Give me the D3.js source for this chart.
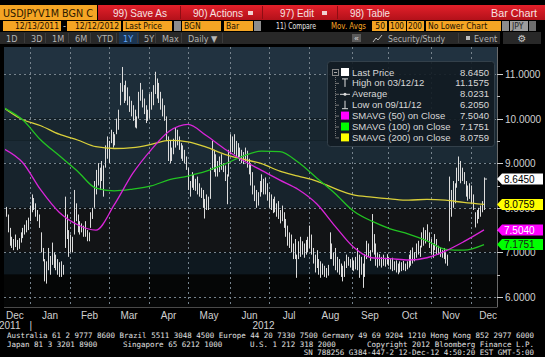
<!DOCTYPE html>
<html><head><meta charset="utf-8">
<script src="https://d3js.org/d3.v7.min.js"></script>
<style>
html,body{margin:0;padding:0;background:#000;overflow:hidden}
svg{display:block}
</style></head>
<body>
<svg id="chart" width="545" height="357"></svg>
<script>
// ================= DATA =================
const ticker = "USDJPYV1M BGN C";
const startDate = "2011-12-13";
const endDate = "2012-12-12";

// daily highs / lows (one entry per trading day)
const highs = [
 8.08,8.02,7.85,7.55,7.35,7.30,7.40,7.28,7.32,7.45,7.55,7.62,7.72,7.78,
 8.05,8.30,8.22,8.10,7.95,7.85,7.45,7.10,6.85,6.80,7.10,6.92,7.22,7.00,6.95,6.85,6.78,6.80,6.72,8.25,7.85,7.50,
 7.40,7.35,8.40,8.10,7.85,7.70,7.65,7.60,7.70,7.50,7.45,7.90,8.00,8.60,8.85,9.00,8.90,9.05,8.95,9.40,9.60,
 9.50,9.75,9.70,9.65,10.00,10.20,10.80,11.1575,10.75,10.85,10.70,10.50,10.40,10.30,10.20,10.05,10.60,10.80,10.65,10.45,10.30,10.20,
 10.55,10.60,10.75,11.05,10.90,10.80,10.60,10.45,10.30,10.05,9.60,9.50,9.35,9.55,9.80,9.75,9.60,9.45,9.40,9.30,9.15,
 8.90,8.60,8.80,8.75,8.65,8.70,8.55,8.45,8.40,8.20,8.30,8.25,8.90,9.50,9.30,9.20,9.05,9.15,9.20,9.00,8.95,8.75,9.30,
 9.65,9.60,9.65,9.50,9.45,9.35,9.30,9.25,9.35,9.28,9.10,9.00,8.80,8.50,8.40,8.35,8.60,8.75,8.65,8.68,8.55,
 8.35,8.30,8.20,8.25,8.10,8.15,7.95,8.05,7.90,7.75,7.60,7.45,7.40,7.20,7.30,6.95,7.25,7.35,7.25,7.20,7.28,7.35,
 7.60,7.40,7.10,6.95,7.05,6.85,6.80,6.75,6.70,6.65,6.72,7.45,7.20,7.00,7.10,6.90,6.85,6.75,6.70,6.80,6.95,6.90,6.85,
 6.88,6.82,6.90,7.10,6.95,6.90,6.75,6.96,7.26,7.20,7.05,7.86,7.41,7.20,7.00,6.96,6.90,6.95,6.88,6.96,
 6.90,6.85,6.88,6.80,6.82,6.75,6.80,6.78,6.81,6.75,6.80,6.95,7.05,7.11,7.00,7.20,7.26,7.15,7.45,7.56,7.50,7.63,7.45,
 7.30,7.20,7.41,7.30,7.15,7.11,7.05,7.10,7.00,6.95,8.70,8.40,8.60,8.55,8.90,9.15,9.05,8.90,8.80,8.60,8.50,8.55,
 8.50,8.30,7.90,7.95,8.00,8.05,8.15,8.68
];
const lows = [
 7.85,7.80,7.45,7.15,7.10,7.05,7.12,7.05,7.08,7.22,7.32,7.40,7.45,7.50,
 7.70,7.90,7.95,7.80,7.70,7.55,7.00,6.80,6.35,6.30,6.60,6.50,6.72,6.65,6.60,6.50,6.45,6.45,6.50,7.10,7.30,6.90,
 7.00,7.00,7.40,7.70,7.45,7.40,7.45,7.35,7.35,7.25,7.25,7.55,7.75,8.00,8.30,8.50,8.40,8.60,8.25,8.90,9.10,
 9.00,9.45,9.35,9.40,9.65,9.75,10.30,10.60,10.35,10.40,10.30,10.15,10.05,9.95,9.80,9.78,10.00,10.40,10.25,10.10,9.90,9.95,
 10.00,10.20,10.30,10.55,10.45,10.35,10.20,10.05,9.95,9.50,9.05,9.00,9.05,9.20,9.35,9.40,9.30,9.10,9.05,9.00,8.85,
 8.40,8.25,8.45,8.40,8.38,8.30,8.25,8.22,8.00,7.76,7.95,7.95,8.20,8.85,8.80,8.70,8.70,8.80,8.85,8.80,8.60,8.08,8.70,
 9.20,9.25,9.20,9.15,9.13,9.05,9.00,8.98,9.05,8.90,8.75,8.50,8.30,8.15,8.00,8.05,8.25,8.35,8.30,8.30,8.16,
 8.00,7.95,7.88,7.90,7.80,7.75,7.65,7.70,7.55,7.35,7.15,7.10,7.00,6.85,6.85,6.43,6.85,6.90,6.95,6.88,6.95,7.00,
 7.10,6.95,6.75,6.55,6.65,6.50,6.43,6.50,6.45,6.43,6.48,6.85,6.85,6.70,6.60,6.55,6.50,6.45,6.35,6.45,6.65,6.70,6.66,
 6.60,6.58,6.62,6.60,6.43,6.50,6.205,6.45,6.85,6.90,6.81,7.00,6.95,6.70,6.66,6.70,6.66,6.70,6.68,6.73,
 6.70,6.62,6.58,6.60,6.55,6.51,6.55,6.58,6.60,6.58,6.62,6.66,6.70,6.75,6.80,6.88,6.95,6.90,7.11,7.15,7.20,7.26,7.10,
 6.95,6.88,7.05,6.96,6.95,6.90,6.88,6.85,6.75,6.70,7.25,7.80,8.00,8.10,8.45,8.60,8.55,8.60,8.53,8.25,8.16,8.20,
 8.08,7.95,7.56,7.65,7.75,7.80,7.90,7.95
];
const lastPrice = 8.6450;

// moving averages, read every 10 trading days
const smaDays = [0,10,20,30,40,50,60,70,80,90,100,110,120,130,140,150,160,170,180,190,200,210,220,230,240,250,261];
const sma50  = [9.32,9.02,8.40,7.90,7.62,7.50,8.07,8.77,9.30,9.72,9.87,9.62,9.32,9.06,8.84,8.62,8.41,8.09,7.59,7.12,6.88,6.86,6.83,6.88,7.03,7.24,7.504];
const sma100 = [10.24,9.98,9.52,9.17,8.82,8.44,8.38,8.42,8.49,8.63,8.71,8.82,8.98,9.16,9.27,9.26,9.02,8.67,8.32,7.93,7.70,7.53,7.41,7.26,7.07,7.05,7.1751];
const sma200 = [10.24,9.98,9.84,9.65,9.52,9.37,9.33,9.35,9.42,9.51,9.48,9.36,9.20,9.09,8.99,8.82,8.71,8.60,8.43,8.29,8.24,8.20,8.17,8.19,8.17,8.12,8.0759];

const yTicks = [6,7,8,9,10,11];
const yMinorTicks = [6.5,7.5,8.5,9.5,10.5];
const monthLabels = ["Dec","Jan","Feb","Mar","Apr","May","Jun","Jul","Aug","Sep","Oct","Nov","Dec"];

const legendLabels = ["Last Price","High on 03/12/12","Average","Low on 09/11/12","SMAVG (50) on Close","SMAVG (100) on Close","SMAVG (200) on Close"];
const legendValues = ["8.6450","11.1575","8.0231","6.2050","7.5040","7.1751","8.0759"];
const tagValues = [8.6450, 8.0759, 7.5040, 7.1751];

const menuItems = ["99) Save As","90) Actions","97) Edit","98) Table"];
const rangeButtons = ["1D","3D","1M","6M","YTD","1Y","5Y","Max","Daily \u25BC"];
const footerLine1 = "Australia 61 2 9777 8600 Brazil 5511 3048 4500 Europe 44 20 7330 7500 Germany 49 69 9204 1210 Hong Kong 852 2977 6000";
const footerLine2 = ["Japan 81 3 3201 8900","Singapore 65 6212 1000","U.S. 1 212 318 2000","Copyright 2012 Bloomberg Finance L.P."];
const footerLine3 = "SN 788256 G384-447-2 12-Dec-12  4:50:20 EST  GMT-5:00";

// ================= DRAW =================
const svg = d3.select("#chart");
const SANS = "'Liberation Sans', Arial, sans-serif";
const NARROW = "'Liberation Sans Narrow', 'DejaVu Sans Condensed', 'Liberation Sans', sans-serif";
const MONO = "'DejaVu Sans Mono', 'Liberation Mono', monospace";
const defs = svg.append("defs");

svg.append("rect").attr("width",545).attr("height",357).attr("fill","#000");

function txt(g, x, y, s, size, fill, anchor, font){
  return g.append("text").attr("x",x).attr("y",y).text(s)
    .attr("font-family",font||SANS).attr("font-size",size).attr("fill",fill)
    .attr("text-anchor",anchor||"start");
}
function fit(t, w){ return t.attr("textLength",w).attr("lengthAdjust","spacingAndGlyphs"); }

// ---------- header ----------
const hdr = svg.append("g");
const rg = defs.append("linearGradient").attr("id","redg").attr("x1",0).attr("y1",0).attr("x2",0).attr("y2",1);
rg.append("stop").attr("offset","0%").attr("stop-color","#e3202a");
rg.append("stop").attr("offset","100%").attr("stop-color","#b3111a");
hdr.append("rect").attr("x",0).attr("y",5).attr("width",97).attr("height",15).attr("fill","#f5a524");
fit(txt(hdr,3,16.5,ticker,11,"#2b1800","start",NARROW),90);
hdr.append("rect").attr("x",98).attr("y",5).attr("width",447).attr("height",15).attr("fill","url(#redg)");
const menuX = [113,193,280,350];
const menuW = [54,50,34,40];
menuItems.forEach((m,i)=>fit(txt(hdr,menuX[i],16.5,m,10.5,"#f6e2e2"),menuW[i]));
[180,262,337].forEach(x=>hdr.append("line").attr("x1",x+0.5).attr("x2",x+0.5).attr("y1",6).attr("y2",19).attr("stroke","#8e0d13"));
[248,322].forEach(x=>{hdr.append("rect").attr("x",x).attr("y",11).attr("width",5).attr("height",4).attr("fill","#f0d0d0");});
fit(txt(hdr,537,16.5,"Bar Chart",10.5,"#f6e2e2","end"),46);

// row 2
const r2y = 21, r2h = 10;
function obox(x,w,label,anchor,fill,tcol){
  hdr.append("rect").attr("x",x).attr("y",r2y).attr("width",w).attr("height",r2h).attr("fill",fill||"#f5a524");
  if(label){
    const tx = anchor==="end"? x+w-2 : anchor==="middle"? x+w/2 : x+2;
    const t = txt(hdr,tx,r2y+8.3,label,8.5,tcol||"#1a1000",anchor||"start",NARROW);
    const tw = t.node().getComputedTextLength();
    if(tw > w-3) fit(t, w-3);
  }
}
obox(3,58,"12/13/2011","end");
txt(hdr,63,r2y+8,"-",9,"#ddd");
obox(67,54,"12/12/2012","end");
obox(123,49,"Last Price");
obox(174,7,"","start","#8d8d8d");
obox(182,39,"BGN");
obox(224,29,"Bar");
obox(254,7,"","start","#8d8d8d");
fit(txt(hdr,276,r2y+8.3,"11) Compare",8.5,"#e6e6e6","start",NARROW),40);
fit(txt(hdr,331,r2y+8.3,"Mov. Avgs",8.5,"#f5a524","start",NARROW),35);
obox(372,15,"50","end");
obox(389,17,"100","end");
obox(407,17,"200","end");
obox(426,75,"No Lower Chart");
obox(502,7,"","start","#8d8d8d");
obox(510,18,"JPY","start","#9d9d9d","#222");
obox(529,7,"","start","#6d6d6d");

// row 3
hdr.append("rect").attr("x",0).attr("y",32).attr("width",500).attr("height",12).attr("fill","#282828");
hdr.append("rect").attr("x",503).attr("y",32).attr("width",38).attr("height",12).attr("fill","#282828");
const rbX = [6,31,52,75,97,123,144,162,188];
rangeButtons.forEach((b,i)=>{
  if(b==="1Y") hdr.append("rect").attr("x",rbX[i]-4).attr("y",32).attr("width",20).attr("height",12).attr("fill","#1b3552");
  txt(hdr,rbX[i],41.5,b,9,b==="1Y"?"#5fa6ff":"#b4b4b4","start",NARROW);
  if(i<rangeButtons.length-1) hdr.append("line").attr("x1",rbX[i+1]-6.5).attr("x2",rbX[i+1]-6.5).attr("y1",33).attr("y2",43).attr("stroke","#3c3c3c");
});
hdr.append("line").attr("x1",222.5).attr("x2",222.5).attr("y1",33).attr("y2",43).attr("stroke","#3c3c3c");
hdr.append("rect").attr("x",352).attr("y",34).attr("width",9).attr("height",8).attr("fill","#5a5a5a");
txt(hdr,356.5,41,"\u00AB",8,"#ddd","middle");
hdr.append("path").attr("d","M373,42 L376,38 L378,40 L382,35").attr("stroke","#bbb").attr("fill","none");
fit(txt(hdr,388,41.5,"Security/Study",9,"#b4b4b4","start",NARROW),57);
hdr.append("line").attr("x1",458.5).attr("x2",458.5).attr("y1",33).attr("y2",43).attr("stroke","#3c3c3c");
hdr.append("rect").attr("x",466).attr("y",36).attr("width",4).attr("height",4).attr("fill","#bbb");
txt(hdr,474,41.5,"Event",9,"#b4b4b4","start",NARROW);
txt(hdr,522,42,"\u2699",10,"#c8c8c8","middle","'DejaVu Sans'");

// ---------- plot ----------
const PL = 4, PR = 497, PT = 47, PB = 307;
const parse = d3.timeParse("%Y-%m-%d");
const days = d3.timeDays(parse(startDate), d3.timeDay.offset(parse(endDate),1))
  .filter(d=>d.getDay()!==0 && d.getDay()!==6);
const x = d3.scaleLinear().domain([0, days.length-1]).range([4, 484]);
const y = d3.scaleLinear().domain([6, 11]).range([297, 74]);

defs.append("clipPath").attr("id","plotclip").append("rect")
  .attr("x",PL+1).attr("y",PT).attr("width",PR-PL-1).attr("height",PB-PT);

// background bands
const bandEdges = [y.invert(PT), 11, 10, 9.5, 9, 8, 7, 6.5, y.invert(PB)];
const bandColors = ["#213240","#1d2d39","#18262f","#1b2a35","#17232c","#121416","#0e181f","#050606"];
const bg = svg.append("g");
bandColors.forEach((c,i)=>{
  bg.append("rect").attr("x",PL).attr("width",PR-PL)
    .attr("y",y(bandEdges[i])).attr("height",y(bandEdges[i+1])-y(bandEdges[i])).attr("fill",c);
});

// grid
const monthIdx = [];
days.forEach((d,i)=>{ if(i===0 || d.getMonth()!==days[i-1].getMonth()) monthIdx.push(i); });
const grid = svg.append("g").attr("stroke","#76838d").attr("stroke-dasharray","2,3").attr("stroke-width",1);
monthIdx.slice(1).forEach(i=>{
  const gx = Math.round(x(i))+0.5;
  grid.append("line").attr("x1",gx).attr("x2",gx).attr("y1",PT).attr("y2",PB);
});
yTicks.forEach(v=>{
  const gy = Math.round(y(v))+0.5;
  grid.append("line").attr("x1",PL).attr("x2",PR).attr("y1",gy).attr("y2",gy);
});

// bars
const plot = svg.append("g").attr("clip-path","url(#plotclip)");
plot.append("g").selectAll("line").data(highs).join("line")
  .attr("x1",(d,i)=>Math.round(x(i))+0.5).attr("x2",(d,i)=>Math.round(x(i))+0.5)
  .attr("y1",d=>y(d)).attr("y2",(d,i)=>y(lows[i]))
  .attr("stroke","#dcdcdc").attr("stroke-width",1);
plot.append("line").attr("x1",Math.round(x(days.length-1))+0.5).attr("x2",Math.round(x(days.length-1))+3)
  .attr("y1",y(lastPrice)).attr("y2",y(lastPrice)).attr("stroke","#dcdcdc");

// moving averages
const line = d3.line().x((d,i)=>x(smaDays[i])).y(d=>y(d)).curve(d3.curveMonotoneX);
[[sma200,"#d9cf3a"],[sma100,"#22c322"],[sma50,"#d925d9"]].forEach(([s,c])=>{
  plot.append("path").attr("d",line(s)).attr("fill","none").attr("stroke",c).attr("stroke-width",1.3);
});

// right axis
const ax = svg.append("g");
ax.append("line").attr("x1",PR+0.5).attr("x2",PR+0.5).attr("y1",PT).attr("y2",PB).attr("stroke","#6a6a6a");
ax.append("line").attr("x1",PL).attr("x2",PR+0.5).attr("y1",PB+0.5).attr("y2",PB+0.5).attr("stroke","#4a4a4a");
yTicks.forEach(v=>{
  const ty = Math.round(y(v))+0.5;
  ax.append("line").attr("x1",PR).attr("x2",PR+6).attr("y1",ty).attr("y2",ty).attr("stroke","#d0d0d0");
  txt(ax,PR+8,ty+3.5,d3.format(".4f")(v),10,"#d0d0d0");
});
yMinorTicks.forEach(v=>{
  const ty = Math.round(y(v))+0.5;
  ax.append("line").attr("x1",PR).attr("x2",PR+3).attr("y1",ty).attr("y2",ty).attr("stroke","#bbb");
});

// price tags
const tagStyle = [["#ffffff","#000"],["#ffff00","#000"],["#ff00ff","#fff"],["#00ff00","#1a1a1a"]];
tagValues.forEach((v,i)=>{
  const ty = y(v);
  ax.append("path").attr("d",`M${PR},${ty} L${PR+5},${ty-5.5} L543,${ty-5.5} L543,${ty+5.5} L${PR+5},${ty+5.5} Z`)
    .attr("fill",tagStyle[i][0]);
  txt(ax,PR+7,ty+3.6,d3.format(".4f")(v),10,tagStyle[i][1]);
});

// legend
const lg = svg.append("g");
lg.append("rect").attr("x",327.5).attr("y",61.5).attr("width",167).attr("height",85).attr("rx",3)
  .attr("fill","#121b22").attr("fill-opacity",0.9).attr("stroke","#33404a");
const rowY = legendLabels.map((d,i)=>72+i*10.9);
lg.append("line").attr("x1",335.5).attr("x2",335.5).attr("y1",75).attr("y2",rowY[6]).attr("stroke","#777").attr("stroke-dasharray","1,1");
rowY.slice(1).forEach(ry=>lg.append("line").attr("x1",335.5).attr("x2",339).attr("y1",ry+0.5).attr("y2",ry+0.5).attr("stroke","#777"));
lg.append("rect").attr("x",332.5).attr("y",69.5).attr("width",6).attr("height",6).attr("fill","none").attr("stroke","#888");
lg.append("line").attr("x1",334).attr("x2",337).attr("y1",72.5).attr("y2",72.5).attr("stroke","#aaa");
const swatch = ["#ffffff",null,null,null,"#ff00ff","#00ff00","#ffff00"];
legendLabels.forEach((l,i)=>{
  const ry = rowY[i];
  if(swatch[i]) lg.append("rect").attr("x",341).attr("y",ry-4).attr("width",8).attr("height",8).attr("fill",swatch[i]);
  txt(lg,352,ry+3.5,l,9.5,"#d8d8d8");
  txt(lg,489,ry+3.5,legendValues[i],9.5,"#d8d8d8","end");
});
lg.append("path").attr("d",`M342,${rowY[1]-4}H348M345,${rowY[1]-4}V${rowY[1]+4}`).attr("stroke","#ddd").attr("fill","none");
lg.append("path").attr("d",`M340,${rowY[2]+0.5}H350`).attr("stroke","#ddd").attr("fill","none");
lg.append("circle").attr("cx",345).attr("cy",rowY[2]+0.5).attr("r",1.5).attr("fill","#ddd");
lg.append("path").attr("d",`M342,${rowY[3]+4}H348M345,${rowY[3]+4}V${rowY[3]-4}`).attr("stroke","#ddd").attr("fill","none");

// x axis labels
const xa = svg.append("g");
const edges = monthIdx.slice(1).map(i=>x(i));
const bounds = [0, ...edges, 505];
monthLabels.forEach((m,i)=>{
  txt(xa,(bounds[i]+bounds[i+1])/2,319,m,10,"#d0d0d0","middle");
});
txt(xa,-1,329,"2011",10,"#d0d0d0");
txt(xa,x(monthIdx[1])+1,329,"|",10,"#d0d0d0","middle");
txt(xa,(x(monthIdx[6])+x(monthIdx[7]))/2+14,329,"2012",10,"#d0d0d0","middle");

// footer
const ft = svg.append("g");
fit(txt(ft,7,338,footerLine1,7.5,"#e0e0e0","start",MONO),527);
const f2x = [7,123,250,534];
footerLine2.forEach((s,i)=>txt(ft,f2x[i],346.5,s,7.5,"#e0e0e0",i===3?"end":"start",MONO));
txt(ft,534,355,footerLine3,7.5,"#e0e0e0","end",MONO);
</script>
</body></html>
